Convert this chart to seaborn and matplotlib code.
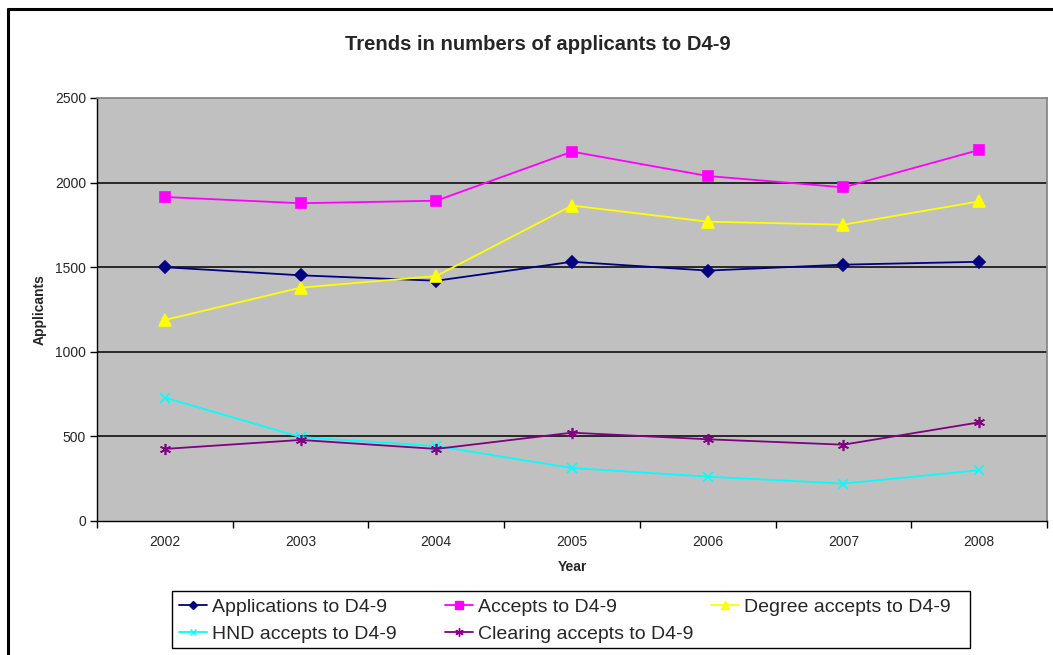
import matplotlib
matplotlib.use("Agg")
import matplotlib.pyplot as plt
from matplotlib.lines import Line2D
from matplotlib.patches import Rectangle
import seaborn as sns
import pandas as pd

# Applicant counts per intake year
years = ["2002", "2003", "2004", "2005", "2006", "2007", "2008"]
applications = [1500, 1452, 1420, 1532, 1480, 1515, 1532]
accepts = [1915, 1878, 1893, 2183, 2039, 1972, 2193]
degree_accepts = [1188, 1379, 1448, 1864, 1769, 1751, 1889]
hnd_accepts = [729, 496, 443, 313, 262, 221, 300]
clearing_accepts = [426, 479, 426, 522, 483, 451, 583]

series_names = [
    "Applications to D4-9",
    "Accepts to D4-9",
    "Degree accepts to D4-9",
    "HND accepts to D4-9",
    "Clearing accepts to D4-9",
]
series_values = [applications, accepts, degree_accepts, hnd_accepts, clearing_accepts]
series_colors = ["#000080", "#FF00FF", "#FFFF00", "#00FFFF", "#800080"]
series_markers = ["D", "s", "^", "x", (6, 2, 0)]
series_msize = [6, 7.5, 8, 7, 8]
legend_msize = [4.5, 5.5, 6, 5, 6]

sns.set_theme(style="white")
plt.rcParams["font.family"] = ["Liberation Sans", "DejaVu Sans"]

rows = []
for name, vals in zip(series_names, series_values):
    for i, (yr, v) in enumerate(zip(years, vals)):
        rows.append({"series": name, "pos": i, "year": yr, "value": v})
df = pd.DataFrame(rows)

W, H = 1053, 655
fig = plt.figure(figsize=(W / 100, H / 100), dpi=100)
ax = fig.add_axes([97 / W, 1 - 521 / H, 950 / W, 423 / H])
ax.set_facecolor("#C0C0C0")

for name, col, mk, ms in zip(series_names, series_colors, series_markers, series_msize):
    sub = df[df["series"] == name]
    sns.lineplot(
        data=sub, x="pos", y="value", ax=ax, color=col, marker=mk,
        markersize=ms, markeredgecolor=col, markerfacecolor=col,
        markeredgewidth=1.2, linewidth=1.3, legend=False,
    )

ax.set_xlim(-0.5, len(years) - 0.5)
ax.set_ylim(0, 2500)
ax.set_yticks([0, 500, 1000, 1500, 2000, 2500])
ax.set_xticks(range(len(years)))
ax.set_xticklabels(years)
ax.set_xticks([i - 0.5 for i in range(len(years) + 1)], minor=True)

ax.grid(False)
for yv in [500, 1000, 1500, 2000]:
    ax.axhline(yv, color="black", linewidth=1.1, zorder=1)

ax.tick_params(axis="y", which="major", direction="out", length=5, width=1,
               color="black", labelsize=10, pad=3, left=True)
ax.tick_params(axis="x", which="major", length=0, labelsize=10, pad=10)
ax.tick_params(axis="x", which="minor", direction="out", length=5, width=1,
               color="black", bottom=True)

for side in ["left", "bottom"]:
    ax.spines[side].set_color("black")
    ax.spines[side].set_linewidth(1)
for side in ["top", "right"]:
    ax.spines[side].set_color("#808080")
    ax.spines[side].set_linewidth(1.2)

ax.set_xlabel("Year", fontsize=10, fontweight="bold", labelpad=8)
ax.set_ylabel("Applicants", fontsize=10, fontweight="bold", labelpad=5.5)

fig.text(538 / W, 1 - 45 / H, "Trends in numbers of applicants to D4-9",
         ha="center", va="center", fontsize=14.6, fontweight="bold")

# Chart outer frame
fig.add_artist(Line2D([8 / W, 8 / W], [0, 1 - 9 / H], transform=fig.transFigure,
                      color="black", linewidth=2.2))
fig.add_artist(Line2D([8 / W, 1], [1 - 9 / H, 1 - 9 / H], transform=fig.transFigure,
                      color="black", linewidth=2.2))

# Legend: boxed, three fixed-width columns filled row by row
fig.add_artist(Rectangle((172 / W, 1 - 648 / H), (970 - 172) / W, (648 - 591) / H,
                         transform=fig.transFigure, facecolor="white",
                         edgecolor="black", linewidth=1, zorder=5))

proxies = [
    Line2D([], [], color=c, marker=m, markersize=s, markeredgecolor=c,
           markerfacecolor=c, markeredgewidth=1, linewidth=1.3)
    for c, m, s in zip(series_colors, series_markers, legend_msize)
]
columns = [[0, 3], [1, 4], [2]]
col_x = [179, 445, 711]
for idxs, cx in zip(columns, col_x):
    lg = fig.legend(
        [proxies[i] for i in idxs], [series_names[i] for i in idxs],
        loc="upper left", bbox_to_anchor=(cx / W, 1 - 598 / H),
        bbox_transform=fig.transFigure, fontsize=14, frameon=False,
        handlelength=1.45, handletextpad=0.25, labelspacing=0.48,
        borderpad=0, borderaxespad=0,
    )
    lg.set_zorder(6)

fig.savefig("out.png", dpi=100, facecolor="white")
